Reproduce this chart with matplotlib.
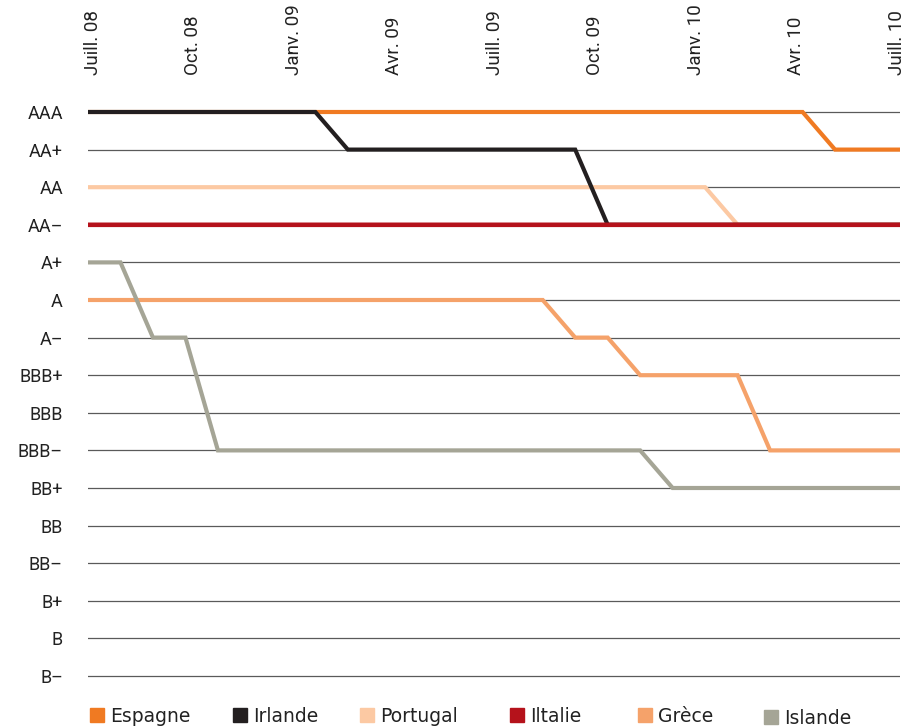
import matplotlib
matplotlib.use("Agg")
import matplotlib.pyplot as plt
from matplotlib.lines import Line2D

ratings = ["B–", "B", "B+", "BB–", "BB", "BB+", "BBB–", "BBB", "BBB+",
           "A–", "A", "A+", "AA–", "AA", "AA+", "AAA"]
months = list(range(26))  # monthly points, July 2008 .. Aug 2010
tick_labels = ["Juill. 08", "Oct. 08", "Janv. 09", "Avr. 09", "Juill. 09",
               "Oct. 09", "Janv. 10", "Avr. 10", "Juill. 10"]

espagne = ["AAA"] * 23 + ["AA+"] * 3
irlande = ["AAA"] * 8 + ["AA+"] * 8 + ["AA–"] * 10
portugal = ["AA"] * 20 + ["AA–"] * 6
italie = ["AA–"] * 26
grece = ["A"] * 15 + ["A–"] * 2 + ["BBB+"] * 4 + ["BBB–"] * 5
islande = ["A+"] * 2 + ["A–"] * 2 + ["BBB–"] * 14 + ["BB+"] * 8

series = [
    ("Espagne", espagne, "#F07A22", 3, 3.0),
    ("Portugal", portugal, "#FCC9A3", 3, 3.0),
    ("Irlande", irlande, "#231F20", 3, 3.0),
    ("Iltalie", italie, "#B5121B", 4, 3.3),
    ("Grèce", grece, "#F5A26A", 3, 3.0),
    ("Islande", islande, "#A5A596", 5, 3.0),
]
legend_order = ["Espagne", "Irlande", "Portugal", "Iltalie", "Grèce", "Islande"]
legend_x = [97, 240, 367, 517, 645, 771]
legend_y = [716, 716, 716, 716, 716, 718]

fig = plt.figure(figsize=(9.10, 7.27), dpi=100)
W, H = 910, 727
left, right = 88, 900
y_top_px, y_bot_px = 112, 676
step = (y_bot_px - y_top_px) / 15
ax_top = y_top_px - 0.5 * step
ax_bot = y_bot_px + 0.5 * step
ax = fig.add_axes([left / W, 1 - ax_bot / H, (right - left) / W, (ax_bot - ax_top) / H])

idx = {r: i for i, r in enumerate(ratings)}
for i in range(len(ratings)):
    ax.axhline(i, color="#5a5a5a", lw=0.9, zorder=1)

handles = {}
for name, vals, color, z, lw in series:
    y = [idx[v] for v in vals]
    ax.plot(months, y, color=color, lw=lw, zorder=z, solid_capstyle="butt",
            solid_joinstyle="miter", clip_on=False, snap=False)
    handles[name] = Line2D([], [], marker="s", linestyle="none", color=color,
                           markersize=10.5)

ax.set_xlim(0, 25)
ax.set_ylim(-0.5, 15.5)
ax.set_yticks(range(len(ratings)))
ax.set_yticklabels(ratings, family=["Roboto", "DejaVu Sans"], fontsize=13, color="#222222")
ax.tick_params(axis="y", length=0, pad=18)

tick_pos = [0.15 + i * (24.75 / 8) for i in range(9)]
ax.xaxis.tick_top()
ax.set_xticks(tick_pos)
ax.set_xticklabels(tick_labels, rotation=90, family=["Roboto", "DejaVu Sans"],
                   fontsize=13.5, color="#222222")
ax.tick_params(axis="x", length=0, pad=13)

for s in ax.spines.values():
    s.set_visible(False)

fs = 13.5
hl = 0.8
hl_px = hl * fs * 100 / 72
for name, xm, ym in zip(legend_order, legend_x, legend_y):
    leg = fig.legend([handles[name]], [name], loc="center left",
                     bbox_to_anchor=((xm - hl_px / 2) / W, 1 - ym / H),
                     frameon=False, handlelength=hl, handletextpad=0.3,
                     borderaxespad=0, borderpad=0,
                     prop={"family": ["DejaVu Sans"], "size": fs})
    for t in leg.get_texts():
        t.set_color("#222222")

fig.savefig("out.png", dpi=100)
